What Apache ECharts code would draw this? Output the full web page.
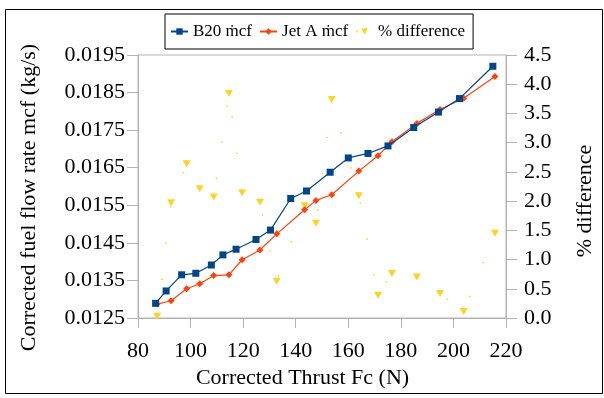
<!DOCTYPE html>
<html>
<head>
<meta charset="utf-8">
<script src="https://cdn.jsdelivr.net/npm/echarts@6/dist/echarts.min.js"></script>
<style>
html,body{margin:0;padding:0;background:#fff;}
#chart{width:604px;height:398px;}
</style>
</head>
<body>
<div id="chart"></div>
<script>
// Corrected thrust Fc (N) and corrected fuel flow rate mcf (kg/s)
const thrustB20 = [86.7, 90.7, 96.6, 102.0, 107.9, 112.3, 117.3, 124.9, 130.4, 138.1, 144.1, 153.1, 160.0, 167.5, 175.1, 184.9, 194.3, 202.3, 215.0];
const mcfB20 = [0.01289, 0.01322, 0.01365, 0.01369, 0.01391, 0.01418, 0.01433, 0.01459, 0.01484, 0.01568, 0.01588, 0.01638, 0.01676, 0.01688, 0.01708, 0.01757, 0.01798, 0.01834, 0.01920];

const thrustJetA = [87.3, 92.6, 98.5, 103.5, 108.8, 114.6, 119.6, 126.4, 132.8, 143.4, 147.7, 153.7, 164.0, 171.3, 176.6, 186.1, 194.9, 203.9, 215.8];
const mcfJetA = [0.01287, 0.01296, 0.01328, 0.01341, 0.01363, 0.01365, 0.01405, 0.01431, 0.01474, 0.01538, 0.01563, 0.01578, 0.01641, 0.01682, 0.01719, 0.01768, 0.01805, 0.01835, 0.01893];

const pctDiff = [0.03, 1.97, 2.64, 2.21, 2.07, 3.84, 2.14, 1.98, 0.63, 1.92, 1.62, 3.74, 2.09, 0.39, 0.76, 0.70, 0.42, 0.11, 1.45];

const seriesNames = ['B20 ṁcf', 'Jet A ṁcf', '% difference'];
const xTitle = 'Corrected Thrust Fc (N)';
const yLeftTitle = 'Corrected fuel flow rate mcf (kg/s)';
const yRightTitle = '% difference';

const zip = (a, b) => a.map((v, i) => [v, b[i]]);

const FONT = '"Liberation Serif", "Times New Roman", serif';
const AXIS_GRAY = '#b3b3b3';

const chart = echarts.init(document.getElementById('chart'), null, {renderer: 'canvas'});
chart.setOption({
  animation: false,
  backgroundColor: '#ffffff',
  textStyle: {fontFamily: FONT, color: '#000'},
  graphic: [{
    type: 'rect',
    shape: {x: 5.5, y: 9.5, width: 597, height: 384},
    style: {fill: 'none', stroke: '#000', lineWidth: 1},
    silent: true,
    z: 0
  }],
  grid: {
    left: 138, right: 95, top: 55, bottom: 80,
    show: true, borderColor: AXIS_GRAY, borderWidth: 1, backgroundColor: 'transparent'
  },
  legend: {
    left: 165, top: 14,
    orient: 'horizontal',
    data: seriesNames,
    itemWidth: 17, itemHeight: 8, itemGap: 7,
    padding: [9, 8, 9, 5],
    borderColor: '#000', borderWidth: 1,
    textStyle: {fontFamily: FONT, fontSize: 17, color: '#000'}
  },
  xAxis: {
    type: 'value', min: 80, max: 220, interval: 20,
    name: xTitle, nameLocation: 'middle', nameGap: 48,
    nameTextStyle: {fontFamily: FONT, fontSize: 22, color: '#000', padding: [0, 39, 0, 0]},
    axisLine: {show: true, lineStyle: {color: AXIS_GRAY, width: 1}},
    axisTick: {show: true, length: 10, lineStyle: {color: AXIS_GRAY}},
    axisLabel: {fontFamily: FONT, fontSize: 22, color: '#000', margin: 22},
    splitLine: {show: false}
  },
  yAxis: [{
    type: 'value', position: 'left', min: 0.0125, max: 0.0195, interval: 0.001,
    name: yLeftTitle, nameLocation: 'middle', nameGap: 98,
    nameTextStyle: {fontFamily: FONT, fontSize: 22, color: '#000', padding: [0, 22, 0, 0]},
    axisLine: {show: true, lineStyle: {color: AXIS_GRAY, width: 1}},
    axisTick: {show: true, length: 11, lineStyle: {color: AXIS_GRAY}},
    axisLabel: {fontFamily: FONT, fontSize: 22, color: '#000', margin: 13,
      formatter: v => v.toFixed(4)},
    splitLine: {show: false}
  }, {
    type: 'value', position: 'right', min: 0, max: 4.5, interval: 0.5,
    name: yRightTitle, nameLocation: 'middle', nameGap: 68,
    nameTextStyle: {fontFamily: FONT, fontSize: 22, color: '#000', padding: [0, 29, 0, 0]},
    axisLine: {show: true, lineStyle: {color: AXIS_GRAY, width: 1}},
    axisTick: {show: true, length: 11, lineStyle: {color: AXIS_GRAY}},
    axisLabel: {fontFamily: FONT, fontSize: 22, color: '#000', margin: 18,
      formatter: v => v.toFixed(1)},
    splitLine: {show: false}
  }],
  series: [{
    name: seriesNames[0], type: 'line', yAxisIndex: 0, z: 4,
    data: zip(thrustB20, mcfB20),
    symbol: 'rect', symbolSize: 7,
    itemStyle: {color: '#004586'},
    lineStyle: {color: '#004586', width: 1.2}
  }, {
    name: seriesNames[1], type: 'line', yAxisIndex: 0, z: 3,
    data: zip(thrustJetA, mcfJetA),
    symbol: 'diamond', symbolSize: 7,
    itemStyle: {color: '#ff420e'},
    lineStyle: {color: '#ff420e', width: 1.2}
  }, {
    name: seriesNames[2], type: 'line', yAxisIndex: 1, z: 2,
    data: zip(thrustJetA, pctDiff),
    symbol: 'triangle', symbolRotate: 180, symbolSize: [8, 7],
    itemStyle: {color: '#ffd320'},
    lineStyle: {color: '#ffd320', width: 1.5, type: [1.5, 35]}
  }]
});
</script>
</body>
</html>
